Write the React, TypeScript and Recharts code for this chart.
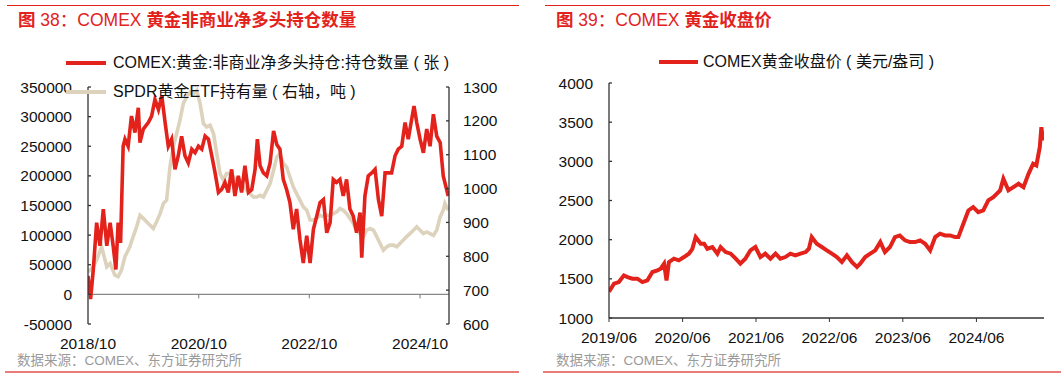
import React from 'react';
import { LineChart, Line, XAxis, YAxis, ReferenceLine } from 'recharts';

// COMEX gold non-commercial net long (contracts)
const netLongDates = [
  '2018-10-01', '2018-10-18', '2018-11-05', '2018-11-27', '2018-12-19', '2019-01-10', '2019-02-02', '2019-02-24',
  '2019-03-16', '2019-04-03', '2019-04-18', '2019-05-04', '2019-05-21', '2019-06-02', '2019-06-23', '2019-07-15',
  '2019-08-07', '2019-08-29', '2019-09-09', '2019-10-01', '2019-11-03', '2019-11-25', '2019-12-17', '2020-01-09',
  '2020-01-31', '2020-02-22', '2020-03-14', '2020-04-05', '2020-04-27', '2020-05-19', '2020-06-10', '2020-07-02',
  '2020-07-24', '2020-08-16', '2020-09-07', '2020-09-29', '2020-10-21', '2020-11-12', '2020-12-04', '2020-12-26',
  '2021-01-17', '2021-02-08', '2021-03-01', '2021-03-23', '2021-04-14', '2021-05-06', '2021-05-28', '2021-06-19',
  '2021-07-11', '2021-08-02', '2021-08-25', '2021-09-16', '2021-10-08', '2021-10-23', '2021-11-10', '2021-12-02',
  '2021-12-24', '2022-01-15', '2022-02-07', '2022-02-28', '2022-03-21', '2022-04-12', '2022-05-04', '2022-05-26',
  '2022-06-17', '2022-07-09', '2022-07-31', '2022-08-22', '2022-09-14', '2022-10-06', '2022-10-28', '2022-11-19',
  '2022-12-11', '2023-01-02', '2023-01-24', '2023-02-15', '2023-03-08', '2023-03-30', '2023-04-21', '2023-05-13',
  '2023-06-04', '2023-06-26', '2023-07-18', '2023-08-09', '2023-09-01', '2023-09-12', '2023-10-03', '2023-10-25',
  '2023-11-17', '2023-12-09', '2023-12-31', '2024-01-22', '2024-02-13', '2024-03-05', '2024-03-27', '2024-04-19',
  '2024-05-10', '2024-06-02', '2024-06-24', '2024-07-15', '2024-08-07', '2024-08-22', '2024-09-09', '2024-10-01',
  '2024-10-23', '2024-11-14', '2024-12-06', '2024-12-28', '2025-01-19', '2025-02-11', '2025-03-03', '2025-04-05',
];
const netLongValues = [
  31000, -8000, 42000, 121000, 82000, 144000, 82000, 121000,
  82000, 42000, 121000, 87000, 250000, 262000, 250000, 301000,
  273000, 315000, 256000, 279000, 290000, 301000, 329000, 312000,
  335000, 290000, 250000, 262000, 211000, 234000, 267000, 234000,
  222000, 245000, 239000, 250000, 245000, 267000, 262000, 234000,
  205000, 172000, 177000, 189000, 172000, 211000, 166000, 200000,
  172000, 217000, 172000, 177000, 211000, 262000, 217000, 205000,
  200000, 222000, 276000, 253000, 245000, 194000, 177000, 155000,
  110000, 144000, 93000, 53000, 99000, 53000, 110000, 132000,
  155000, 160000, 104000, 121000, 194000, 189000, 194000, 166000,
  194000, 144000, 132000, 104000, 138000, 62000, 166000, 200000,
  205000, 211000, 160000, 132000, 205000, 205000, 205000, 234000,
  245000, 250000, 290000, 262000, 296000, 318000, 290000, 262000,
  239000, 279000, 250000, 304000, 267000, 256000, 200000, 166000,
];

// SPDR gold ETF holdings (tonnes, right axis)
const spdrDates = [
  '2018-10-01', '2018-11-05', '2018-11-27', '2018-12-30', '2019-02-02', '2019-02-24', '2019-03-27', '2019-04-18',
  '2019-05-10', '2019-06-02', '2019-07-04', '2019-07-26', '2019-08-18', '2019-09-09', '2019-10-01', '2019-11-03',
  '2019-12-06', '2019-12-28', '2020-01-20', '2020-02-11', '2020-03-03', '2020-03-25', '2020-04-16', '2020-05-08',
  '2020-05-30', '2020-06-21', '2020-07-13', '2020-08-05', '2020-08-27', '2020-09-18', '2020-10-10', '2020-11-01',
  '2020-11-23', '2020-12-15', '2021-01-07', '2021-01-28', '2021-02-19', '2021-03-12', '2021-04-03', '2021-04-25',
  '2021-05-17', '2021-06-08', '2021-06-30', '2021-07-22', '2021-08-14', '2021-09-05', '2021-09-27', '2021-10-19',
  '2021-11-10', '2021-12-02', '2021-12-24', '2022-01-15', '2022-02-07', '2022-02-28', '2022-03-21', '2022-04-12',
  '2022-05-04', '2022-05-26', '2022-06-17', '2022-07-09', '2022-07-31', '2022-08-22', '2022-09-14', '2022-10-06',
  '2022-10-28', '2022-11-19', '2022-12-11', '2023-01-02', '2023-01-24', '2023-02-15', '2023-03-08', '2023-03-30',
  '2023-04-21', '2023-05-13', '2023-06-04', '2023-06-26', '2023-07-18', '2023-08-09', '2023-09-01', '2023-09-23',
  '2023-10-14', '2023-11-06', '2023-11-28', '2023-12-20', '2024-01-11', '2024-02-02', '2024-02-24', '2024-03-16',
  '2024-04-08', '2024-04-30', '2024-05-21', '2024-06-13', '2024-07-04', '2024-07-26', '2024-08-18', '2024-09-09',
  '2024-10-01', '2024-10-23', '2024-11-14', '2024-12-06', '2024-12-28', '2025-01-19', '2025-02-11', '2025-03-03',
  '2025-03-14', '2025-04-05',
];
const spdrValues = [
  754, 769, 789, 828, 769, 779, 744, 740,
  759, 799, 828, 858, 887, 921, 912, 897,
  882, 902, 926, 956, 966, 1064, 1123, 1162,
  1202, 1251, 1271, 1285, 1280, 1290, 1251, 1192,
  1182, 1187, 1162, 1103, 1044, 1025, 1044, 1044,
  1034, 1025, 1025, 1005, 995, 985, 975, 975,
  980, 975, 995, 1015, 1054, 1093, 1103, 1074,
  1064, 1034, 1005, 985, 966, 946, 936, 907,
  907, 912, 921, 917, 921, 921, 926, 931,
  941, 936, 926, 912, 897, 877, 867, 858,
  877, 882, 877, 858, 838, 818, 828, 833,
  833, 828, 838, 848, 858, 867, 877, 887,
  877, 867, 872, 867, 862, 877, 917, 936,
  956, 936,
];

// COMEX gold close (USD/oz)
const goldDates = [
  '2019-06-01', '2019-06-26', '2019-07-20', '2019-08-14', '2019-09-01', '2019-09-25', '2019-10-20', '2019-11-14',
  '2019-12-09', '2020-01-03', '2020-01-28', '2020-02-13', '2020-03-01', '2020-03-13', '2020-03-25', '2020-04-19',
  '2020-05-13', '2020-06-08', '2020-07-02', '2020-07-19', '2020-08-05', '2020-08-30', '2020-09-16', '2020-10-02',
  '2020-10-27', '2020-11-21', '2020-12-07', '2021-01-01', '2021-01-26', '2021-02-20', '2021-03-15', '2021-04-09',
  '2021-05-04', '2021-05-29', '2021-06-23', '2021-07-17', '2021-08-12', '2021-09-06', '2021-09-30', '2021-10-25',
  '2021-11-19', '2021-12-14', '2022-01-08', '2022-02-03', '2022-02-19', '2022-03-05', '2022-03-30', '2022-04-24',
  '2022-05-19', '2022-06-13', '2022-07-08', '2022-08-02', '2022-08-27', '2022-09-21', '2022-10-16', '2022-11-01',
  '2022-11-26', '2022-12-21', '2023-01-15', '2023-02-09', '2023-03-04', '2023-03-29', '2023-04-23', '2023-05-17',
  '2023-06-12', '2023-07-06', '2023-08-01', '2023-08-26', '2023-09-20', '2023-10-15', '2023-11-09', '2023-12-03',
  '2023-12-28', '2024-01-22', '2024-02-16', '2024-03-03', '2024-03-28', '2024-04-22', '2024-05-16', '2024-06-10',
  '2024-07-05', '2024-07-30', '2024-08-24', '2024-09-27', '2024-10-13', '2024-11-07', '2024-12-02', '2024-12-27',
  '2025-01-21', '2025-02-15', '2025-03-10', '2025-03-26', '2025-04-12', '2025-04-20', '2025-04-28',
];
const goldValues = [
  1335, 1438, 1459, 1544, 1523, 1502, 1502, 1459,
  1480, 1587, 1608, 1629, 1693, 1480, 1714, 1757,
  1736, 1778, 1821, 1880, 2033, 1948, 1948, 1884,
  1906, 1821, 1906, 1842, 1821, 1757, 1693, 1757,
  1863, 1906, 1778, 1821, 1757, 1821, 1757, 1778,
  1821, 1799, 1821, 1842, 1884, 2033, 1948, 1906,
  1863, 1821, 1778, 1714, 1799, 1714, 1651, 1693,
  1778, 1821, 1863, 1969, 1842, 1906, 2033, 2054,
  1991, 1969, 1969, 1991, 1948, 1863, 2033, 2076,
  2054, 2054, 2033, 2033, 2203, 2373, 2416, 2352,
  2373, 2501, 2543, 2629, 2777, 2629, 2671, 2714,
  2671, 2841, 2969, 2947, 3181, 3436, 3266, 3415,
];

const leftXTicks = ['2018-10-01', '2020-10-01', '2022-10-01', '2024-10-01'];
const rightXTicks = ['2019-06-01', '2020-06-01', '2021-06-01', '2022-06-01', '2023-06-01', '2024-06-01'];
const netLongTicks = [-50000, 0, 50000, 100000, 150000, 200000, 250000, 300000, 350000];
const spdrTicks = [600, 700, 800, 900, 1000, 1100, 1200, 1300];
const goldTicks = [1000, 1500, 2000, 2500, 3000, 3500, 4000];

const RED = '#e3221c';
const BEIGE = '#ddd3bd';
const AXIS = '#333333';
const FONT = '"Liberation Sans", Arial, "Noto Sans CJK SC", sans-serif';

const ts = (d: string) => Date.parse(d + 'T00:00:00Z');
const fmtDate = (v: number) => {
  const d = new Date(v);
  return `${d.getUTCFullYear()}/${String(d.getUTCMonth() + 1).padStart(2, '0')}`;
};

const netLongData = netLongDates.map((d, i) => ({ t: ts(d), v: netLongValues[i] }));
const spdrData = spdrDates.map((d, i) => ({ t: ts(d), v: spdrValues[i] }));
const goldData = goldDates.map((d, i) => ({ t: ts(d), v: goldValues[i] }));

// left panel geometry
const L_TOP = 87;
const L_BOTTOM = 324;
const L_AXIS_L = 88;
const L_AXIS_R = 449;
const L_ZERO = L_TOP + ((L_BOTTOM - L_TOP) * 350000) / 400000;

// right panel geometry (relative to the right chart)
const R_TOP = 83;
const R_BOTTOM = 318;
const R_AXIS_L = 79;

const tickText = { fontSize: 15.5, fill: '#111', fontFamily: FONT };

const LeftYTick = (p: any) => (
  <g>
    <line x1={L_AXIS_L} x2={L_AXIS_L + 3} y1={p.y} y2={p.y} stroke={AXIS} strokeWidth={1.3} />
    <text x={L_AXIS_L - 16} y={p.y} textAnchor="end" dominantBaseline="central" {...tickText}>
      {p.payload.value}
    </text>
  </g>
);

const RightYTick = (p: any) => (
  <g>
    <line x1={L_AXIS_R - 3} x2={L_AXIS_R} y1={p.y} y2={p.y} stroke={AXIS} strokeWidth={1.3} />
    <text x={L_AXIS_R + 14} y={p.y} textAnchor="start" dominantBaseline="central" {...tickText}>
      {p.payload.value}
    </text>
  </g>
);

const LeftXTick = (p: any) => (
  <g>
    <line x1={p.x} x2={p.x} y1={L_ZERO} y2={L_ZERO + 4} stroke="#777" strokeWidth={1} />
    <text x={p.x} y={343} textAnchor="middle" dominantBaseline="central" {...tickText}>
      {fmtDate(p.payload.value)}
    </text>
  </g>
);

const GoldYTick = (p: any) => (
  <g>
    <line x1={R_AXIS_L} x2={R_AXIS_L + 3} y1={p.y} y2={p.y} stroke={AXIS} strokeWidth={1.3} />
    <text x={R_AXIS_L - 16} y={p.y} textAnchor="end" dominantBaseline="central" {...tickText}>
      {p.payload.value}
    </text>
  </g>
);

const GoldXTick = (p: any) => (
  <text x={p.x} y={337} textAnchor="middle" dominantBaseline="central" {...tickText}>
    {fmtDate(p.payload.value)}
  </text>
);

const abs = (s: React.CSSProperties): React.CSSProperties => ({ position: 'absolute', ...s });
const legendText = { fontSize: 16, lineHeight: '20px', color: '#111', whiteSpace: 'nowrap' as const };
const titleText = { fontSize: 17.5, lineHeight: '20px', color: RED, whiteSpace: 'nowrap' as const };

export default function App() {
  return (
    <div style={{ position: 'absolute', left: 0, top: 0, width: 1061, height: 378, background: '#fff', fontFamily: FONT, overflow: 'hidden' }}>
      {/* rules */}
      <div style={abs({ left: 7, top: 5, width: 512, height: 1, background: RED })} />
      <div style={abs({ left: 545, top: 5, width: 505, height: 1, background: RED })} />
      <div style={abs({ left: 5, top: 371, width: 514, height: 2, background: '#ea7b78' })} />
      <div style={abs({ left: 543, top: 371, width: 518, height: 2, background: '#ea7b78' })} />

      {/* titles */}
      <div style={abs({ left: 18, top: 10, ...titleText })}>
        <b>图</b> 38：COMEX <b>黄金非商业净多头持仓数量</b>
      </div>
      <div style={abs({ left: 556, top: 10, ...titleText })}>
        <b>图</b> 39：COMEX <b>黄金收盘价</b>
      </div>

      {/* left chart */}
      <div style={abs({ left: 0, top: 0 })}>
        <LineChart width={530} height={378} margin={{ top: L_TOP, right: 0, bottom: 0, left: 0 }}>
          <XAxis
            dataKey="t"
            type="number"
            scale="time"
            domain={[ts('2018-10-01'), ts('2025-04-10')]}
            ticks={leftXTicks.map(ts)}
            allowDataOverflow
            height={378 - L_BOTTOM}
            axisLine={false}
            tickLine={false}
            tick={LeftXTick}
            interval={0}
          />
          <YAxis
            yAxisId="left"
            width={L_AXIS_L}
            domain={[-50000, 350000]}
            ticks={netLongTicks}
            interval={0}
            axisLine={{ stroke: AXIS, strokeWidth: 1.3 }}
            tickLine={false}
            tick={LeftYTick}
          />
          <YAxis
            yAxisId="right"
            orientation="right"
            width={530 - L_AXIS_R}
            domain={[600, 1300]}
            ticks={spdrTicks}
            interval={0}
            axisLine={{ stroke: AXIS, strokeWidth: 1.3 }}
            tickLine={false}
            tick={RightYTick}
          />
          <ReferenceLine yAxisId="left" y={0} stroke="#888" strokeWidth={1.2} />
          <Line
            yAxisId="right"
            data={spdrData}
            dataKey="v"
            stroke={BEIGE}
            strokeWidth={3.6}
            dot={false}
            isAnimationActive={false}
          />
          <Line
            yAxisId="left"
            data={netLongData}
            dataKey="v"
            stroke={RED}
            strokeWidth={3.6}
            dot={false}
            isAnimationActive={false}
          />
        </LineChart>
      </div>

      {/* left legend */}
      <div style={abs({ left: 66, top: 61, width: 40, height: 4, background: RED })} />
      <div style={abs({ left: 113, top: 53, ...legendText })}>
        COMEX:黄金:非商业净多头持仓:持仓数量 ( 张 )
      </div>
      <div style={abs({ left: 66, top: 90, width: 40, height: 4, background: BEIGE })} />
      <div style={abs({ left: 113, top: 82, ...legendText })}>
        SPDR黄金ETF持有量 ( 右轴，吨 )
      </div>

      {/* right chart */}
      <div style={abs({ left: 530, top: 0 })}>
        <LineChart width={531} height={378} margin={{ top: R_TOP, right: 17, bottom: 0, left: 0 }}>
          <XAxis
            dataKey="t"
            type="number"
            scale="time"
            domain={[ts('2019-06-01'), ts('2025-05-03')]}
            ticks={rightXTicks.map(ts)}
            allowDataOverflow
            height={378 - R_BOTTOM}
            axisLine={{ stroke: AXIS, strokeWidth: 1.3 }}
            tickLine={{ stroke: AXIS, strokeWidth: 1 }}
            tickSize={4}
            tick={GoldXTick}
            interval={0}
          />
          <YAxis
            width={R_AXIS_L}
            domain={[1000, 4000]}
            ticks={goldTicks}
            interval={0}
            axisLine={{ stroke: AXIS, strokeWidth: 1.3 }}
            tickLine={false}
            tick={GoldYTick}
          />
          <Line
            data={goldData}
            dataKey="v"
            stroke={RED}
            strokeWidth={4}
            dot={false}
            isAnimationActive={false}
          />
        </LineChart>
      </div>

      {/* right legend */}
      <div style={abs({ left: 659, top: 60, width: 39, height: 4, background: RED })} />
      <div style={abs({ left: 703, top: 52, ...legendText })}>
        COMEX黄金收盘价 ( 美元/盎司 )
      </div>

      {/* sources */}
      <div style={abs({ left: 17, top: 352, fontSize: 13.5, lineHeight: '18px', color: '#9a9a9a', whiteSpace: 'nowrap' })}>
        数据来源：COMEX、东方证券研究所
      </div>
      <div style={abs({ left: 556, top: 352, fontSize: 13.5, lineHeight: '18px', color: '#9a9a9a', whiteSpace: 'nowrap' })}>
        数据来源：COMEX、东方证券研究所
      </div>
    </div>
  );
}
